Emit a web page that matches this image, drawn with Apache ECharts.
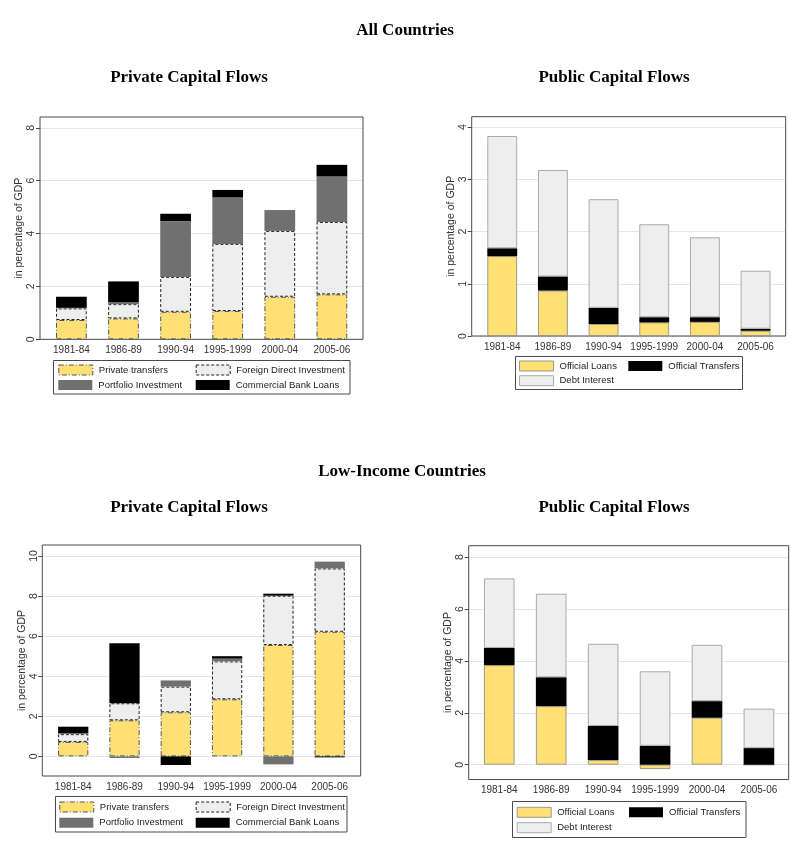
<!DOCTYPE html>
<html><head><meta charset="utf-8">
<script src="https://cdn.jsdelivr.net/npm/echarts@6/dist/echarts.min.js"></script>
<style>html,body{margin:0;padding:0;background:#fff}#c{width:790px;height:846px}</style>
</head><body><div id="c"></div>
<script>
// ---------- data ----------
const categories = ['1981-84', '1986-89', '1990-94', '1995-1999', '2000-04', '2005-06'];

// All Countries – private capital flows
const allPrivateTransfers = [0.73, 0.79, 1.04, 1.07, 1.61, 1.70];
const allFDI              = [0.44, 0.54, 1.32, 2.54, 2.49, 2.74];
const allPortfolio        = [0.02, 0.07, 2.11, 1.77, 0.79, 1.72];
const allBankLoans        = [0.42, 0.79, 0.28, 0.27, 0.00, 0.44];

// All Countries – public capital flows
const allOfficialLoans     = [1.53, 0.87, 0.23, 0.26, 0.27, 0.10];
const allOfficialTransfers = [0.15, 0.27, 0.31, 0.10, 0.09, 0.04];
const allDebtInterest      = [2.15, 2.04, 2.08, 1.78, 1.53, 1.11];

// Low-Income Countries – private capital flows
const lowPrivateTransfers = [0.72, 1.80, 2.20, 2.85, 5.56, 6.22];
const lowFDI              = [0.39, 0.85, 1.28, 1.89, 2.46, 3.16];
const lowPortfolio        = [0.05, -0.08, 0.31, 0.14, -0.40, 0.34];
const lowBankLoans        = [0.32, 2.99, -0.43, 0.12, 0.10, -0.05];

// Low-Income Countries – public capital flows
const lowOfficialLoans     = [3.84, 2.26, 0.18, -0.17, 1.81, 0.00];
const lowOfficialTransfers = [0.66, 1.11, 1.31, 0.73, 0.64, 0.64];
const lowDebtInterest      = [2.68, 3.22, 3.17, 2.87, 2.17, 1.52];

// tick labels
const yTicksAllPrivate = [0, 2, 4, 6, 8];
const yTicksAllPublic  = [0, 1, 2, 3, 4];
const yTicksLowPrivate = [0, 2, 4, 6, 8, 10];
const yTicksLowPublic  = [0, 2, 4, 6, 8];

// text
const headings = ['All Countries', 'Low-Income Countries'];
const panelTitles = ['Private Capital Flows', 'Public Capital Flows'];
const yAxisTitle = 'in percentage of GDP';
const privateNames = ['Private transfers', 'Foreign Direct Investment', 'Portfolio Investment', 'Commercial Bank Loans'];
const publicNames = ['Official Loans', 'Official Transfers', 'Debt Interest'];

// ---------- styles ----------
const YELLOW = '#FFE074';
const styles = {
  'Private transfers':        {color: YELLOW, borderColor: '#555', borderWidth: 1, borderType: [5, 2, 1, 2]},
  'Foreign Direct Investment':{color: '#EEEEEE', borderColor: '#222', borderWidth: 1, borderType: [3, 2]},
  'Portfolio Investment':     {color: '#707070', borderColor: '#707070', borderWidth: 0},
  'Commercial Bank Loans':    {color: '#000000', borderColor: '#000', borderWidth: 0},
  'Official Loans':           {color: YELLOW, borderColor: '#9a9a8a', borderWidth: 1},
  'Official Transfers':       {color: '#000000', borderColor: '#000', borderWidth: 0},
  'Debt Interest':            {color: '#EEEEEE', borderColor: '#aaaaaa', borderWidth: 1}
};
const SANS = '"Liberation Sans", Arial, sans-serif';

// ---------- layout ----------
const panels = [
  {frame: {x: 40, y: 117, w: 323, h: 222.3}, yMin: 0, yMax: 8.41, ticks: yTicksAllPrivate,
   bars: {left: 45.35, width: 312.6}, names: privateNames,
   values: [allPrivateTransfers, allFDI, allPortfolio, allBankLoans],
   legendBox: {x: 53.5, y: 360.5, w: 296.5, h: 33.5}, rows: [370, 385], cols: [58.3, 195.7]},
  {frame: {x: 471.7, y: 116.7, w: 314, h: 219.3}, yMin: 0, yMax: 4.2, ticks: yTicksAllPublic,
   bars: {left: 476.9, width: 304}, names: publicNames,
   values: [allOfficialLoans, allOfficialTransfers, allDebtInterest],
   legendBox: {x: 515.5, y: 356.5, w: 227, h: 33}, rows: [366, 380.7], cols: [519, 628.3]},
  {frame: {x: 42.3, y: 545, w: 318.4, h: 231}, yMin: -0.98, yMax: 10.55, ticks: yTicksLowPrivate,
   bars: {left: 47.55, width: 307.8}, names: privateNames,
   values: [lowPrivateTransfers, lowFDI, lowPortfolio, lowBankLoans],
   legendBox: {x: 55.5, y: 796.5, w: 291.5, h: 35.5}, rows: [807, 822.7], cols: [59.3, 195.7]},
  {frame: {x: 468.7, y: 545.7, w: 320, h: 233.8}, yMin: -0.57, yMax: 8.44, ticks: yTicksLowPublic,
   bars: {left: 473.3, width: 311.6}, names: publicNames,
   values: [lowOfficialLoans, lowOfficialTransfers, lowDebtInterest],
   legendBox: {x: 512.5, y: 801.5, w: 233.5, h: 36}, rows: [812.3, 827.7], cols: [516.7, 629]}
];

const grid = [], xAxis = [], yAxis = [], series = [], legend = [], graphic = [];

panels.forEach((p, k) => {
  const f = p.frame;
  const px = v => f.y + (p.yMax - v) / (p.yMax - p.yMin) * f.h;
  const t0 = p.ticks[0], tN = p.ticks[p.ticks.length - 1];
  const step = p.ticks[1] - p.ticks[0];

  // grid 3k: frame + y title
  grid.push({left: f.x, top: f.y, width: f.w, height: f.h, show: true,
             borderColor: '#4a4a4a', borderWidth: 1, backgroundColor: 'transparent', z: 1});
  xAxis.push({type: 'value', gridIndex: 3 * k, show: false, min: 0, max: 1});
  yAxis.push({type: 'value', gridIndex: 3 * k, min: p.yMin, max: p.yMax,
              axisLine: {show: false}, axisTick: {show: false}, axisLabel: {show: false}, splitLine: {show: false},
              name: yAxisTitle, nameLocation: 'middle', nameGap: 15, nameRotate: 90,
              nameTextStyle: {fontFamily: SANS, fontSize: 10.5, color: '#333'}});

  // grid 3k+1: ticks, labels, gridlines
  grid.push({left: f.x, top: px(tN), width: f.w, height: px(t0) - px(tN), show: false});
  xAxis.push({type: 'value', gridIndex: 3 * k + 1, show: false, min: 0, max: 1});
  yAxis.push({type: 'value', gridIndex: 3 * k + 1, min: t0, max: tN, interval: step,
              axisLine: {show: false},
              axisTick: {show: true, length: 4, lineStyle: {color: '#4a4a4a'}},
              axisLabel: {rotate: 90, margin: 3, fontFamily: SANS, fontSize: 10.5, color: '#333'},
              splitLine: {show: true, lineStyle: {color: '#e6e6e6', width: 1}}});

  // grid 3k+2: bars
  grid.push({left: p.bars.left, top: f.y, width: p.bars.width, height: f.h, show: false});
  xAxis.push({type: 'category', gridIndex: 3 * k + 2, data: categories,
              axisLine: {show: false, onZero: false}, axisTick: {show: false},
              axisLabel: {margin: 6, fontFamily: SANS, fontSize: 10, color: '#333', interval: 0}});
  yAxis.push({type: 'value', gridIndex: 3 * k + 2, min: p.yMin, max: p.yMax, show: false,
              splitLine: {show: false}});

  p.names.forEach((name, i) => {
    series.push({type: 'bar', name, xAxisIndex: 3 * k + 2, yAxisIndex: 3 * k + 2,
                 stack: 'panel' + k, barWidth: '59%', data: p.values[i],
                 itemStyle: styles[name], emphasis: {disabled: true}, z: 3});
    const row = Math.floor(i / 2), col = i % 2;
    legend.push({data: [{name, itemStyle: styles[name]}], left: p.cols[col], top: p.rows[row] - 6,
                 padding: 0, itemWidth: 34, itemHeight: 10, itemGap: 0, icon: 'rect',
                 selectedMode: false,
                 textStyle: {fontFamily: SANS, fontSize: 9.5, color: '#222', lineHeight: 12, padding: [0, 0, 0, 1]}});
  });

  const b = p.legendBox;
  graphic.push({type: 'rect', shape: {x: b.x, y: b.y, width: b.w, height: b.h},
                style: {fill: 'none', stroke: '#4a4a4a', lineWidth: 1}, z: 10});
});

// headings
const titleFont = 'bold 17px "Liberation Serif", "Times New Roman", serif';
[[headings[0], 405, 31], [panelTitles[0], 189, 78], [panelTitles[1], 614, 78],
 [headings[1], 402, 472], [panelTitles[0], 189, 508], [panelTitles[1], 614, 508]].forEach(([t, x, y]) => {
  graphic.push({type: 'text', x, y, style: {text: t, font: titleFont, fill: '#000', align: 'center', verticalAlign: 'middle'}, z: 10});
});

const chart = echarts.init(document.getElementById('c'), null, {renderer: 'canvas'});
chart.setOption({animation: false, backgroundColor: '#fff', grid, xAxis, yAxis, series, legend, graphic});
</script></body></html>
